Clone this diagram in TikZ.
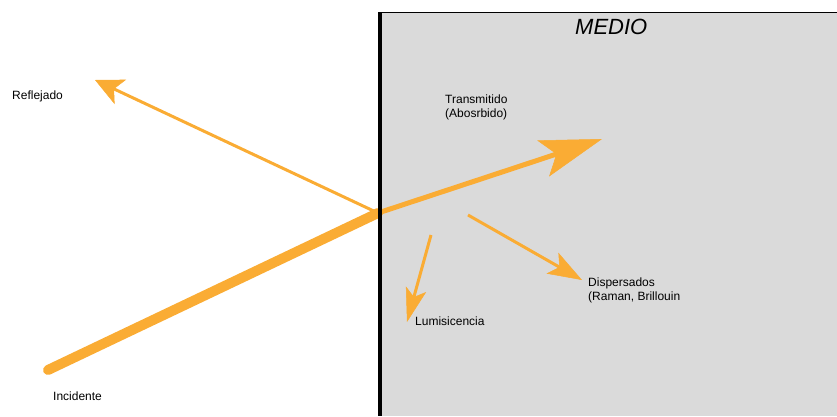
\documentclass[tikz,border=0pt]{standalone}
\usepackage{fontspec}
\setmainfont{Liberation Sans}
\usetikzlibrary{arrows.meta,positioning}
\definecolor{naranja}{RGB}{250,172,52}
\definecolor{gris}{RGB}{218,218,218}

\begin{document}
\begin{tikzpicture}[x=1pt,y=-1pt,
  rayo/.style={draw=naranja,line width=#1},
  punta/.style={-{Stealth[#1,line width=0.5pt]}},
  lbl/.style={inner sep=0pt,anchor=base west,align=left,
    font=\fontsize{12}{14.5}\selectfont}]
  \useasboundingbox (0,0) rectangle (837,416);
  % medio
  \fill[gris] (380,12) rectangle (837,416);
  \draw[line width=0.8pt] (380,12) -- (837,12);
  \node[inner sep=0pt,anchor=base west,
    font=\fontsize{22}{26}\selectfont\itshape] (medio) at (575,34) {MEDIO};
  % puntos de los rayos
  \coordinate (O)    at (378,213);
  \coordinate (pInc) at (48,370);
  \coordinate (pRef) at (95,80);
  \coordinate (pTra) at (602,139);
  \coordinate (lum0) at (431,235);
  \coordinate (lum1) at (407,322);
  \coordinate (dis0) at (468,215);
  \coordinate (dis1) at (582,280);
  % rayos
  \draw[rayo=10pt,line cap=round] (pInc) -- (O);
  \draw[rayo=3pt,punta={length=28pt,width=27pt,inset=7pt}] (O) -- (pRef);
  \draw[rayo=5pt,punta={length=62pt,width=38pt,inset=14pt}] (O) -- (pTra);
  \draw[rayo=3pt,punta={length=34pt,width=21pt,inset=8pt}] (lum0) -- (lum1);
  \draw[rayo=3pt,punta={length=34pt,width=24pt,inset=8pt}] (dis0) -- (dis1);
  % borde del medio
  \draw[line width=4.5pt] (380,12) -- (380,416);
  % textos (base = ultima linea)
  \node[lbl] (refl) at (12,99)  {Reflejado};
  \node[lbl] (tran) at (445,117.5) {Transmitido\\(Abosrbido)};
  \node[lbl] (disp) at (588,300.5) {Dispersados\\(Raman, Brillouin};
  \node[lbl] (lumi) at (415,325) {Lumisicencia};
  \node[lbl] (inci) at (53,400)  {Incidente};
\end{tikzpicture}
\end{document}
